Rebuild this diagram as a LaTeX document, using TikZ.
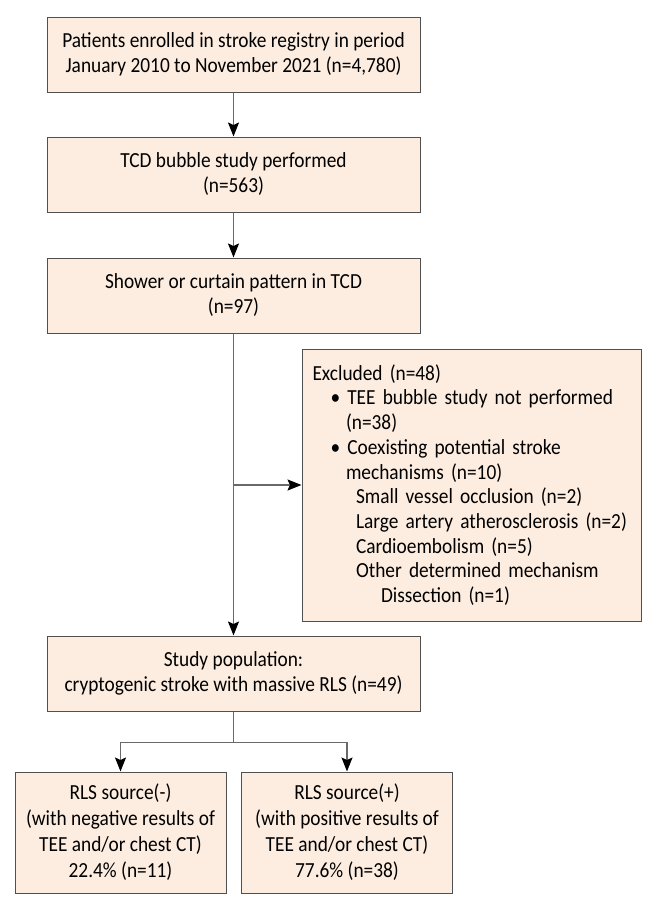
\documentclass[tikz,border=0pt]{standalone}
\usepackage{fontspec}
\setmainfont{Carlito}[FakeStretch=0.9]
\usetikzlibrary{arrows.meta, positioning, calc}
\definecolor{boxfill}{RGB}{253,237,224}
\definecolor{boxline}{RGB}{80,80,80}
\definecolor{linkgray}{RGB}{105,105,105}

\begin{document}
\begin{tikzpicture}[x=1pt, y=-1pt,
  flowbox/.style={draw=boxline, fill=boxfill, line width=1pt, minimum width=373pt,
    minimum height=75pt, align=center, inner sep=0pt, font=\fontsize{21.5}{25}\selectfont},
  smallbox/.style={flowbox, minimum width=211pt, minimum height=121pt,
    font=\fontsize{21.5}{26}\selectfont},
  link/.style={draw=linkgray, line width=1.4pt,
    -{Stealth[length=14pt, width=11pt, inset=2.5pt, color=black]}}]
  \useasboundingbox (0,0) rectangle (660,910);

  \node[flowbox] (enrolled) at (233.5,54.5) {Patients enrolled in stroke registry in period\\January 2010 to November 2021 (n=4,780)};
  \node[flowbox] (tcd) at (233.5,174.5) {TCD bubble study performed\\(n=563)};
  \node[flowbox] (shower) at (233.5,295.5) {Shower or curtain pattern in TCD\\(n=97)};
  \node[flowbox, minimum width=339pt, minimum height=272pt, align=left,
    text width=318pt, font=\fontsize{21.5}{24.7}\selectfont] (excluded) at (471.5,485)
    {Excluded (n=48)\\
     \hspace*{18pt}\textbullet\ TEE bubble study not performed\\
     \hspace*{33.5pt}(n=38)\\
     \hspace*{18pt}\textbullet\ Coexisting potential stroke\\
     \hspace*{33.5pt}mechanisms (n=10)\\
     \hspace*{43.5pt}Small vessel occlusion (n=2)\\
     \hspace*{43.5pt}Large artery atherosclerosis (n=2)\\
     \hspace*{43.5pt}Cardioembolism (n=5)\\
     \hspace*{43.5pt}Other determined mechanism\\
     \hspace*{68.5pt}Dissection (n=1)};
  \node[flowbox] (study) at (233.5,673.5) {Study population:\\cryptogenic stroke with massive RLS (n=49)};
  \node[smallbox] (neg) at (120.5,832.5) {RLS source(-)\\(with negative results of\\TEE and/or chest CT)\\22.4\% (n=11)};
  \node[smallbox] (pos) at (347,832.5) {RLS source(+)\\(with positive results of\\TEE and/or chest CT)\\77.6\% (n=38)};

  \draw[link] (enrolled) -- (tcd);
  \draw[link] (tcd) -- (shower);
  \draw[link] (shower) -- (study);
  \draw[link] (shower.south |- excluded.west) -- (excluded.west);
  \draw[draw=linkgray, line width=1.4pt] (study.south) -- ++(0,31) coordinate (split);
  \draw[link] (split) -| (neg.north);
  \draw[link] (split) -| (pos.north);
\end{tikzpicture}
\end{document}
